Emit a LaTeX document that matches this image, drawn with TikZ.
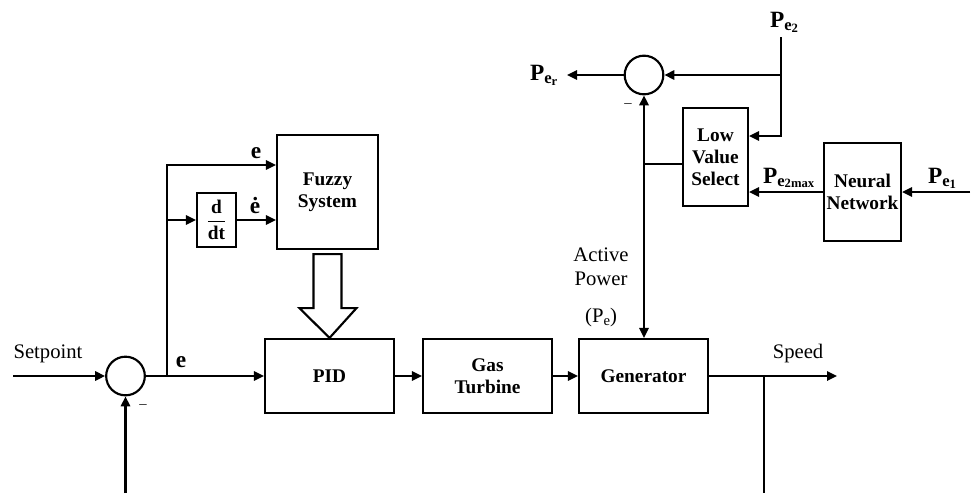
\documentclass[tikz,border=0pt]{standalone}
\usepackage{fontspec}
\usepackage{amsmath}
\setmainfont{Liberation Serif}
\usetikzlibrary{arrows.meta}
\newcommand{\PE}[1]{\textbf{P\raisebox{-0.3ex}{\fontsize{12.5pt}{12.5pt}\selectfont e\raisebox{-0.2ex}{\fontsize{9.5pt}{9.5pt}\selectfont #1}}}}
\begin{document}
\begin{tikzpicture}[x=0.75pt,y=-0.75pt,
  line width=1.6pt,
  arr/.style={-{Triangle[length=7.5pt,width=7pt]}},
  blk/.style={draw, line width=1.6pt, align=center, inner sep=1pt,
    font=\fontsize{14.5pt}{16.5pt}\selectfont\bfseries},
  sumj/.style={draw, circle, minimum size=29pt, inner sep=0pt, line width=1.6pt},
  lab/.style={font=\fontsize{15.5pt}{18pt}\selectfont, align=center, inner sep=0pt},
  blab/.style={font=\fontsize{17.5pt}{17.5pt}\selectfont\bfseries, inner sep=0pt},
  minus/.style={font=\fontsize{11pt}{11pt}\selectfont, inner sep=0pt}
]
\useasboundingbox (0,0) rectangle (973,493);

% blocks
\node[sumj] (s1) at (125.5,376) {};
\node[blk, minimum width=96.75pt, minimum height=55.5pt] (pid) at (329.5,376) {PID};
\node[blk, minimum width=96.75pt, minimum height=55pt] (gt) at (487.5,376) {Gas\\Turbine};
\node[blk, minimum width=96.75pt, minimum height=55.5pt] (gen) at (643.5,376) {Generator};
\node[blk, minimum width=75.75pt, minimum height=85.5pt] (fz) at (327.5,192) {Fuzzy\\System};
\node[blk, minimum width=29.25pt, minimum height=40.5pt] (ddt) at (216.5,220) {$\dfrac{\textbf{d}}{\textbf{dt}}$};
\node[sumj] (s2) at (644,75) {};
\node[blk, minimum width=48.75pt, minimum height=73.5pt] (lvs) at (715.5,157) {Low\\Value\\Select};
\node[blk, minimum width=57.75pt, minimum height=73.5pt] (nn) at (862.5,192) {Neural\\Network};

% coordinates
\coordinate (sp) at (13,376);
\coordinate (j1) at (167,376);
\coordinate (spd) at (837,376);
\coordinate (j3) at (764,376);
\coordinate (j3b) at (764,493);
\coordinate (fb) at (125.5,493);
\coordinate (j2) at (644,164);
\coordinate (pe2top) at (781,37);
\coordinate (per) at (567,75);
\coordinate (pe1s) at (970,192);

% main loop
\draw[arr] (sp) -- (s1.west);
\draw[arr] (s1.east) -- (pid.west);
\draw[arr] (pid.east) -- (gt.west);
\draw[arr] (gt.east) -- (gen.west);
\draw[arr] (gen.east) -- (spd);
\draw (j3) -- (j3b);
\draw[arr] (fb) -- (s1.south);

% fuzzy inputs
\draw[arr] (j1) |- ([yshift=20.25pt]fz.west);
\draw[arr] (j1 |- ddt.west) -- (ddt.west);
\draw[arr] (ddt.east) -- (ddt.east -| fz.west);

% hollow arrow
\draw[line width=1.6pt, line join=miter]
  ([xshift=-10.5pt,yshift=-3pt]fz.south) -- ++(0,-40.5pt) -- ++(-10.5pt,0)
  -- (pid.north) -- ([xshift=21.75pt,yshift=-43.5pt]fz.south) -- ++(-11.25pt,0)
  -- ([xshift=10.5pt,yshift=-3pt]fz.south) -- cycle;

% power loop
\draw[{Triangle[length=7.5pt,width=7pt]}-{Triangle[length=7.5pt,width=7pt]}] (s2.south) -- (s2.south |- gen.north);
\draw (j2) -- (j2 -| lvs.west);
\draw[arr] (pe2top) |- ([yshift=15.75pt]lvs.east);
\draw[arr] (pe2top |- s2.east) -- (s2.east);
\draw[arr] (s2.west) -- (per);
\draw[arr] (nn.west) -- (nn.west -| lvs.east);
\draw[arr] (pe1s) -- (nn.east);

% labels
\node[lab] (tsp) at (48,354) {Setpoint};
\node[lab] (tspd) at (798,354) {Speed};
\node[blab] (te1) at (181,362) {e};
\node[blab] (te2) at (256,153) {e};
\node[blab] (ted) at (255,206) {ė};
\node[minus] (m1) at (143,407) {–};
\node[minus] (m2) at (628,106) {–};
\node[lab] (tap) at (601,267) {Active\\Power};
\node[lab] (tpe) at (601,318) {(P\raisebox{-0.3ex}{\fontsize{11pt}{11pt}\selectfont e})};
\node[blab, anchor=west] (tpe2) at (769,22) {\PE{2}};
\node[blab, anchor=west] (tper) at (529,75) {\PE{r}};
\node[blab, anchor=west] (tpe2m) at (762,178) {\PE{2max}};
\node[blab, anchor=west] (tpe1) at (927,178) {\PE{1}};
\end{tikzpicture}
\end{document}
